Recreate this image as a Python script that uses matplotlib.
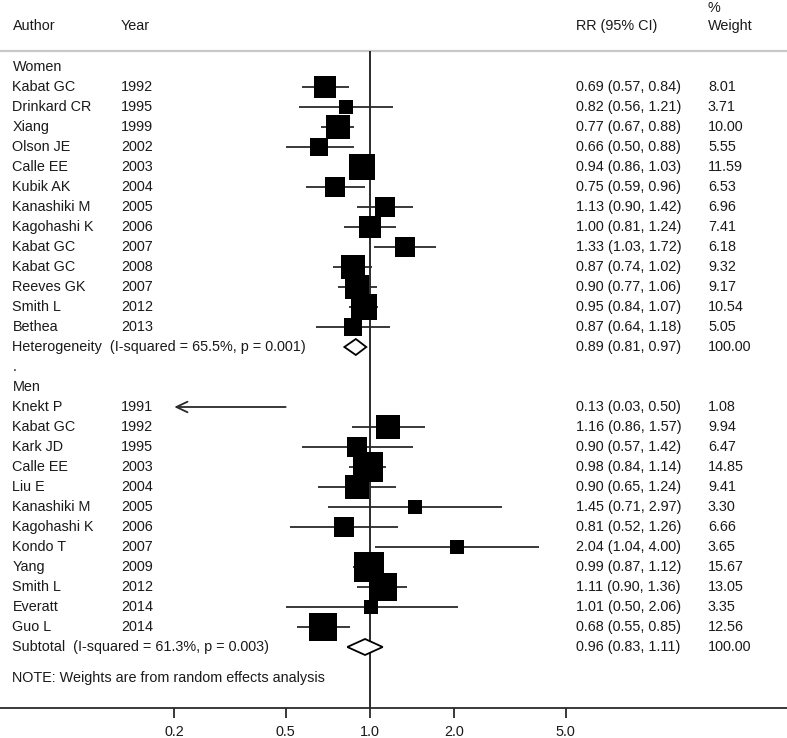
import matplotlib
matplotlib.use("Agg")
import matplotlib.pyplot as plt
from matplotlib.transforms import blended_transform_factory
from matplotlib.patches import Polygon

plt.rcParams['font.family'] = ['Liberation Sans', 'DejaVu Sans']

# ---------------- data ----------------
women_authors = ["Kabat GC", "Drinkard CR", "Xiang", "Olson JE", "Calle EE", "Kubik AK",
                 "Kanashiki M", "Kagohashi K", "Kabat GC", "Kabat GC", "Reeves GK", "Smith L", "Bethea"]
women_years = [1992, 1995, 1999, 2002, 2003, 2004, 2005, 2006, 2007, 2008, 2007, 2012, 2013]
women_rr = [0.69, 0.82, 0.77, 0.66, 0.94, 0.75, 1.13, 1.00, 1.33, 0.87, 0.90, 0.95, 0.87]
women_lo = [0.57, 0.56, 0.67, 0.50, 0.86, 0.59, 0.90, 0.81, 1.03, 0.74, 0.77, 0.84, 0.64]
women_hi = [0.84, 1.21, 0.88, 0.88, 1.03, 0.96, 1.42, 1.24, 1.72, 1.02, 1.06, 1.07, 1.18]
women_w = [8.01, 3.71, 10.00, 5.55, 11.59, 6.53, 6.96, 7.41, 6.18, 9.32, 9.17, 10.54, 5.05]
women_pool = (0.89, 0.81, 0.97, 100.00)
women_label = "Heterogeneity  (I-squared = 65.5%, p = 0.001)"

men_authors = ["Knekt P", "Kabat GC", "Kark JD", "Calle EE", "Liu E", "Kanashiki M",
               "Kagohashi K", "Kondo T", "Yang", "Smith L", "Everatt", "Guo L"]
men_years = [1991, 1992, 1995, 2003, 2004, 2005, 2006, 2007, 2009, 2012, 2014, 2014]
men_rr = [0.13, 1.16, 0.90, 0.98, 0.90, 1.45, 0.81, 2.04, 0.99, 1.11, 1.01, 0.68]
men_lo = [0.03, 0.86, 0.57, 0.84, 0.65, 0.71, 0.52, 1.04, 0.87, 0.90, 0.50, 0.55]
men_hi = [0.50, 1.57, 1.42, 1.14, 1.24, 2.97, 1.26, 4.00, 1.12, 1.36, 2.06, 0.85]
men_w = [1.08, 9.94, 6.47, 14.85, 9.41, 3.30, 6.66, 3.65, 15.67, 13.05, 3.35, 12.56]
men_pool = (0.96, 0.83, 1.11, 100.00)
men_label = "Subtotal  (I-squared = 61.3%, p = 0.003)"

tick_vals = [0.2, 0.5, 1.0, 2.0, 5.0]
tick_labels = ["0.2", "0.5", "1.0", "2.0", "5.0"]

# ---------------- layout ----------------
W, H = 787, 738
AX_BOTTOM = 708          # pixel row of axis line
FS = 10.4
LW = 1.3
fig = plt.figure(figsize=(W / 100, H / 100), dpi=100)
ax = fig.add_axes([0, (H - AX_BOTTOM) / H, 1, AX_BOTTOM / H])
ax.set_xscale('log')
X1 = 370.0               # pixel of RR=1
PPD = 280.0              # pixels per decade
ax.set_xlim(10 ** (-X1 / PPD), 10 ** ((W - X1) / PPD))
ax.set_ylim(AX_BOTTOM, 0)
lo_lim, hi_lim = tick_vals[0], tick_vals[-1]

for s in ['top', 'left', 'right']:
    ax.spines[s].set_visible(False)
ax.spines['bottom'].set_color('#2a2a2a')
ax.spines['bottom'].set_linewidth(LW)
ax.set_yticks([])
ax.set_xticks(tick_vals)
ax.set_xticklabels(tick_labels)
ax.minorticks_off()
ax.tick_params(axis='x', which='major', direction='out', length=7.2, width=LW,
               color='#2a2a2a', pad=5, labelsize=FS, labelcolor='#1a1a1a')
ax.tick_params(axis='x', which='minor', length=0)

tr = blended_transform_factory(ax.transAxes, ax.transData)
TXT = '#1a1a1a'


def txt(px, py, s):
    ax.text(px / W, py, s, transform=tr, fontsize=FS, va='center', ha='left', color=TXT)


COL_AUTH, COL_YEAR, COL_RR, COL_W = 12.5, 121, 576, 708

# headers
txt(COL_AUTH, 26, "Author")
txt(COL_YEAR, 26, "Year")
txt(COL_RR, 26, "RR (95% CI)")
txt(COL_W, 7.5, "%")
txt(COL_W, 26, "Weight")
ax.axhline(51, color='#c8c8c8', lw=1.6, zorder=1)

# null line
ax.vlines(1.0, 51, AX_BOTTOM, color='#1a1a1a', lw=LW, zorder=2)

K = 7.76  # px per sqrt(weight)
ROW0, STEP = 67, 20


def draw_study(y, a, yr, rr, lo, hi, w):
    txt(COL_AUTH, y, a)
    txt(COL_YEAR, y, str(yr))
    txt(COL_RR, y, f"{rr:.2f} ({lo:.2f}, {hi:.2f})")
    txt(COL_W, y, f"{w:.2f}")
    l = max(lo, lo_lim)
    h = min(hi, hi_lim)
    if lo < lo_lim:
        ax.annotate('', xy=(l, y), xytext=(h, y),
                    arrowprops=dict(arrowstyle='->,head_length=0.8,head_width=0.38',
                                    color='#2a2a2a', lw=LW, shrinkA=0, shrinkB=0))
    else:
        ax.plot([l, h], [y, y], color='#2a2a2a', lw=LW, solid_capstyle='butt', zorder=3)
    if lo_lim <= rr <= hi_lim:
        ax.plot([rr], [y], marker='s', color='black', markeredgewidth=0,
                markersize=K * w ** 0.5 * 0.72, zorder=4)


def draw_pool(y, label, pool):
    rr, lo, hi, w = pool
    txt(COL_AUTH, y, label)
    txt(COL_RR, y, f"{rr:.2f} ({lo:.2f}, {hi:.2f})")
    txt(COL_W, y, f"{w:.2f}")
    hh = 8
    poly = Polygon([(lo, y), (rr, y - hh), (hi, y), (rr, y + hh)], closed=True,
                   facecolor='white', edgecolor='black', lw=LW, zorder=5)
    ax.add_patch(poly)


row = 0
txt(COL_AUTH, ROW0 + STEP * row, "Women")
row += 1
for i in range(len(women_authors)):
    draw_study(ROW0 + STEP * row, women_authors[i], women_years[i], women_rr[i],
               women_lo[i], women_hi[i], women_w[i])
    row += 1
draw_pool(ROW0 + STEP * row, women_label, women_pool)
row += 1
txt(COL_AUTH, ROW0 + STEP * row, ".")
row += 1
txt(COL_AUTH, ROW0 + STEP * row, "Men")
row += 1
for i in range(len(men_authors)):
    draw_study(ROW0 + STEP * row, men_authors[i], men_years[i], men_rr[i],
               men_lo[i], men_hi[i], men_w[i])
    row += 1
draw_pool(ROW0 + STEP * row, men_label, men_pool)

txt(COL_AUTH, 678, "NOTE: Weights are from random effects analysis")

fig.savefig("out.png", dpi=100)
